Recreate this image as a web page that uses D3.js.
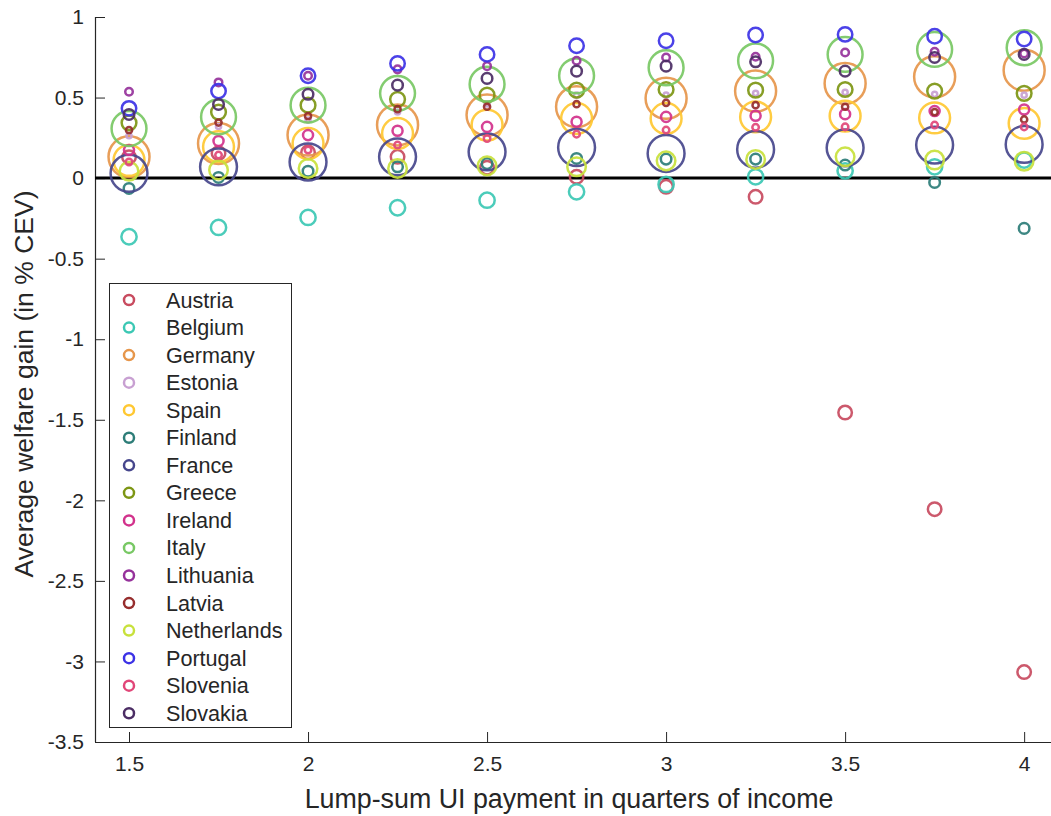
<!DOCTYPE html>
<html>
<head>
<meta charset="utf-8">
<script src="https://cdn.jsdelivr.net/npm/d3@7"></script>
<style>
  html, body { margin: 0; padding: 0; background: #fff; }
  svg { display: block; }
  text { font-family: "Liberation Sans", Arial, Helvetica, sans-serif; fill: #262626; }
</style>
</head>
<body>
<svg id="chart" width="1051" height="816"></svg>
<script>
// ---------------- DATA ----------------
const xValues = [1.5, 1.75, 2, 2.25, 2.5, 2.75, 3, 3.25, 3.5, 3.75, 4];
const xTicks = [1.5, 2, 2.5, 3, 3.5, 4];
const yTicks = [1, 0.5, 0, -0.5, -1, -1.5, -2, -2.5, -3, -3.5];

const countries = ["Austria", "Belgium", "Germany", "Estonia", "Spain", "Finland", "France", "Greece",
  "Ireland", "Italy", "Lithuania", "Latvia", "Netherlands", "Portugal", "Slovenia", "Slovakia"];
// population (millions) -> marker area
const population = [9, 11.5, 83, 1.3, 47, 5.5, 67, 10.7, 5, 60, 2.8, 1.9, 17, 10.3, 2.1, 5.5];

const austria     = [0.13, 0.155, 0.16, 0.132, 0.065, 0.008, -0.054, -0.116, -1.455, -2.055, -3.066];
const belgium     = [-0.364, -0.306, -0.244, -0.184, -0.137, -0.085, -0.039, 0.008, 0.045, 0.07, 0.112];
const germany     = [0.132, 0.215, 0.267, 0.33, 0.391, 0.443, 0.495, 0.54, 0.588, 0.629, 0.67];
const estonia     = [0.263, 0.32, 0.36, 0.41, 0.46, 0.515, 0.515, 0.526, 0.532, 0.52, 0.515];
const spain       = [0.11, 0.195, 0.215, 0.277, 0.329, 0.37, 0.37, 0.38, 0.385, 0.374, 0.34];
const finland     = [-0.064, 0.004, 0.043, 0.07, 0.09, 0.122, 0.118, 0.118, 0.081, -0.027, -0.312];
const france      = [0.03, 0.07, 0.10, 0.132, 0.163, 0.19, 0.153, 0.178, 0.188, 0.205, 0.209];
const greece      = [0.343, 0.41, 0.453, 0.489, 0.515, 0.546, 0.55, 0.546, 0.55, 0.54, 0.526];
const ireland     = [0.174, 0.23, 0.267, 0.294, 0.318, 0.35, 0.38, 0.387, 0.397, 0.416, 0.426];
const italy       = [0.308, 0.38, 0.453, 0.526, 0.583, 0.635, 0.685, 0.728, 0.768, 0.799, 0.809];
const lithuania   = [0.536, 0.594, 0.635, 0.675, 0.695, 0.728, 0.749, 0.753, 0.78, 0.784, 0.774];
const latvia      = [0.298, 0.345, 0.385, 0.428, 0.443, 0.459, 0.467, 0.453, 0.443, 0.41, 0.364];
const netherlands = [0.043, 0.05, 0.06, 0.06, 0.076, 0.07, 0.107, 0.116, 0.132, 0.112, 0.105];
const portugal    = [0.433, 0.54, 0.635, 0.712, 0.768, 0.821, 0.852, 0.888, 0.892, 0.881, 0.863];
const slovenia    = [0.10, 0.143, 0.174, 0.205, 0.246, 0.273, 0.298, 0.315, 0.318, 0.329, 0.318];
const slovakia    = [0.395, 0.457, 0.52, 0.577, 0.619, 0.664, 0.695, 0.722, 0.664, 0.749, 0.768];

const seriesValues = [austria, belgium, germany, estonia, spain, finland, france, greece,
  ireland, italy, lithuania, latvia, netherlands, portugal, slovenia, slovakia];

const colors = ["#c84b5f", "#3cc8b4", "#e6964b", "#c8a0d2", "#ffc832", "#2d7d78", "#46468c", "#7d9614",
  "#d2328c", "#78c864", "#96329b", "#962d2d", "#c8e13c", "#3c32e6", "#e14678", "#4b2d64"];

const xLabel = "Lump-sum UI payment in quarters of income";
const yLabel = "Average welfare gain (in % CEV)";

// ---------------- CHART ----------------
const svg = d3.select("#chart");
const mLeft = 95, mRight = 1051, mTop = 17, mBottom = 742;

const x = d3.scaleLinear().domain([1.405, 4.075]).range([mLeft, mRight]);
const y = d3.scaleLinear().domain([-3.5, 1]).range([mBottom, mTop]);
const r = d3.scaleSqrt().domain([0, 83]).range([0, 20.5]);

// axes
const fmt = d => String(d);
const xAxis = d3.axisBottom(x).tickValues(xTicks).tickFormat(fmt).tickSizeInner(-10).tickSizeOuter(0).tickPadding(14);
const yAxis = d3.axisLeft(y).tickValues(yTicks).tickFormat(fmt).tickSizeInner(-10).tickSizeOuter(0).tickPadding(11);

const gx = svg.append("g").attr("transform", `translate(0,${mBottom})`).call(xAxis);
const gy = svg.append("g").attr("transform", `translate(${mLeft},0)`).call(yAxis);
[gx, gy].forEach(g => {
  g.selectAll("path.domain").attr("stroke", "#262626").attr("stroke-width", 1.2);
  g.selectAll(".tick line").attr("stroke", "#262626").attr("stroke-width", 1);
  g.selectAll(".tick text").style("font-family", '"Liberation Sans", Arial, sans-serif')
    .style("font-size", "21px").attr("fill", "#262626");
});
gx.select("path.domain").attr("d", `M${mLeft},0.5H${mRight}`);
gy.select("path.domain").attr("d", `M0.5,${mBottom}V${mTop}`);

// zero line
svg.append("line")
  .attr("x1", mLeft).attr("x2", mRight)
  .attr("y1", y(0)).attr("y2", y(0))
  .attr("stroke", "#000").attr("stroke-width", 3);

// markers
countries.forEach((c, i) => {
  svg.append("g").selectAll("circle")
    .data(seriesValues[i].map((v, j) => ({ x: xValues[j], v })))
    .join("circle")
    .attr("cx", d => x(d.x))
    .attr("cy", d => y(d.v))
    .attr("r", r(population[i]))
    .attr("fill", "none")
    .attr("stroke", colors[i])
    .attr("stroke-width", 2.5)
    .attr("stroke-opacity", 0.92);
});

// axis labels
svg.append("text")
  .attr("x", 569).attr("y", 808)
  .attr("text-anchor", "middle")
  .style("font-size", "26.8px")
  .text(xLabel);

svg.append("text")
  .attr("transform", `translate(33,384) rotate(-90)`)
  .attr("text-anchor", "middle")
  .style("font-size", "26.5px")
  .text(yLabel);

// legend
const lg = svg.append("g");
lg.append("rect")
  .attr("x", 109.5).attr("y", 283.5).attr("width", 182).attr("height", 444)
  .attr("fill", "#fff").attr("stroke", "#262626").attr("stroke-width", 1);
const items = lg.selectAll("g.item").data(countries).join("g")
  .attr("class", "item")
  .attr("transform", (d, i) => `translate(0,${300 + i * 27.55})`);
items.append("circle")
  .attr("cx", 129).attr("cy", 0).attr("r", 5)
  .attr("fill", "none")
  .attr("stroke", (d, i) => colors[i])
  .attr("stroke-width", 2.5);
items.append("text")
  .attr("x", 166).attr("y", 7.5)
  .style("font-size", "21.6px")
  .attr("fill", "#000")
  .text(d => d);
</script>
</body>
</html>
